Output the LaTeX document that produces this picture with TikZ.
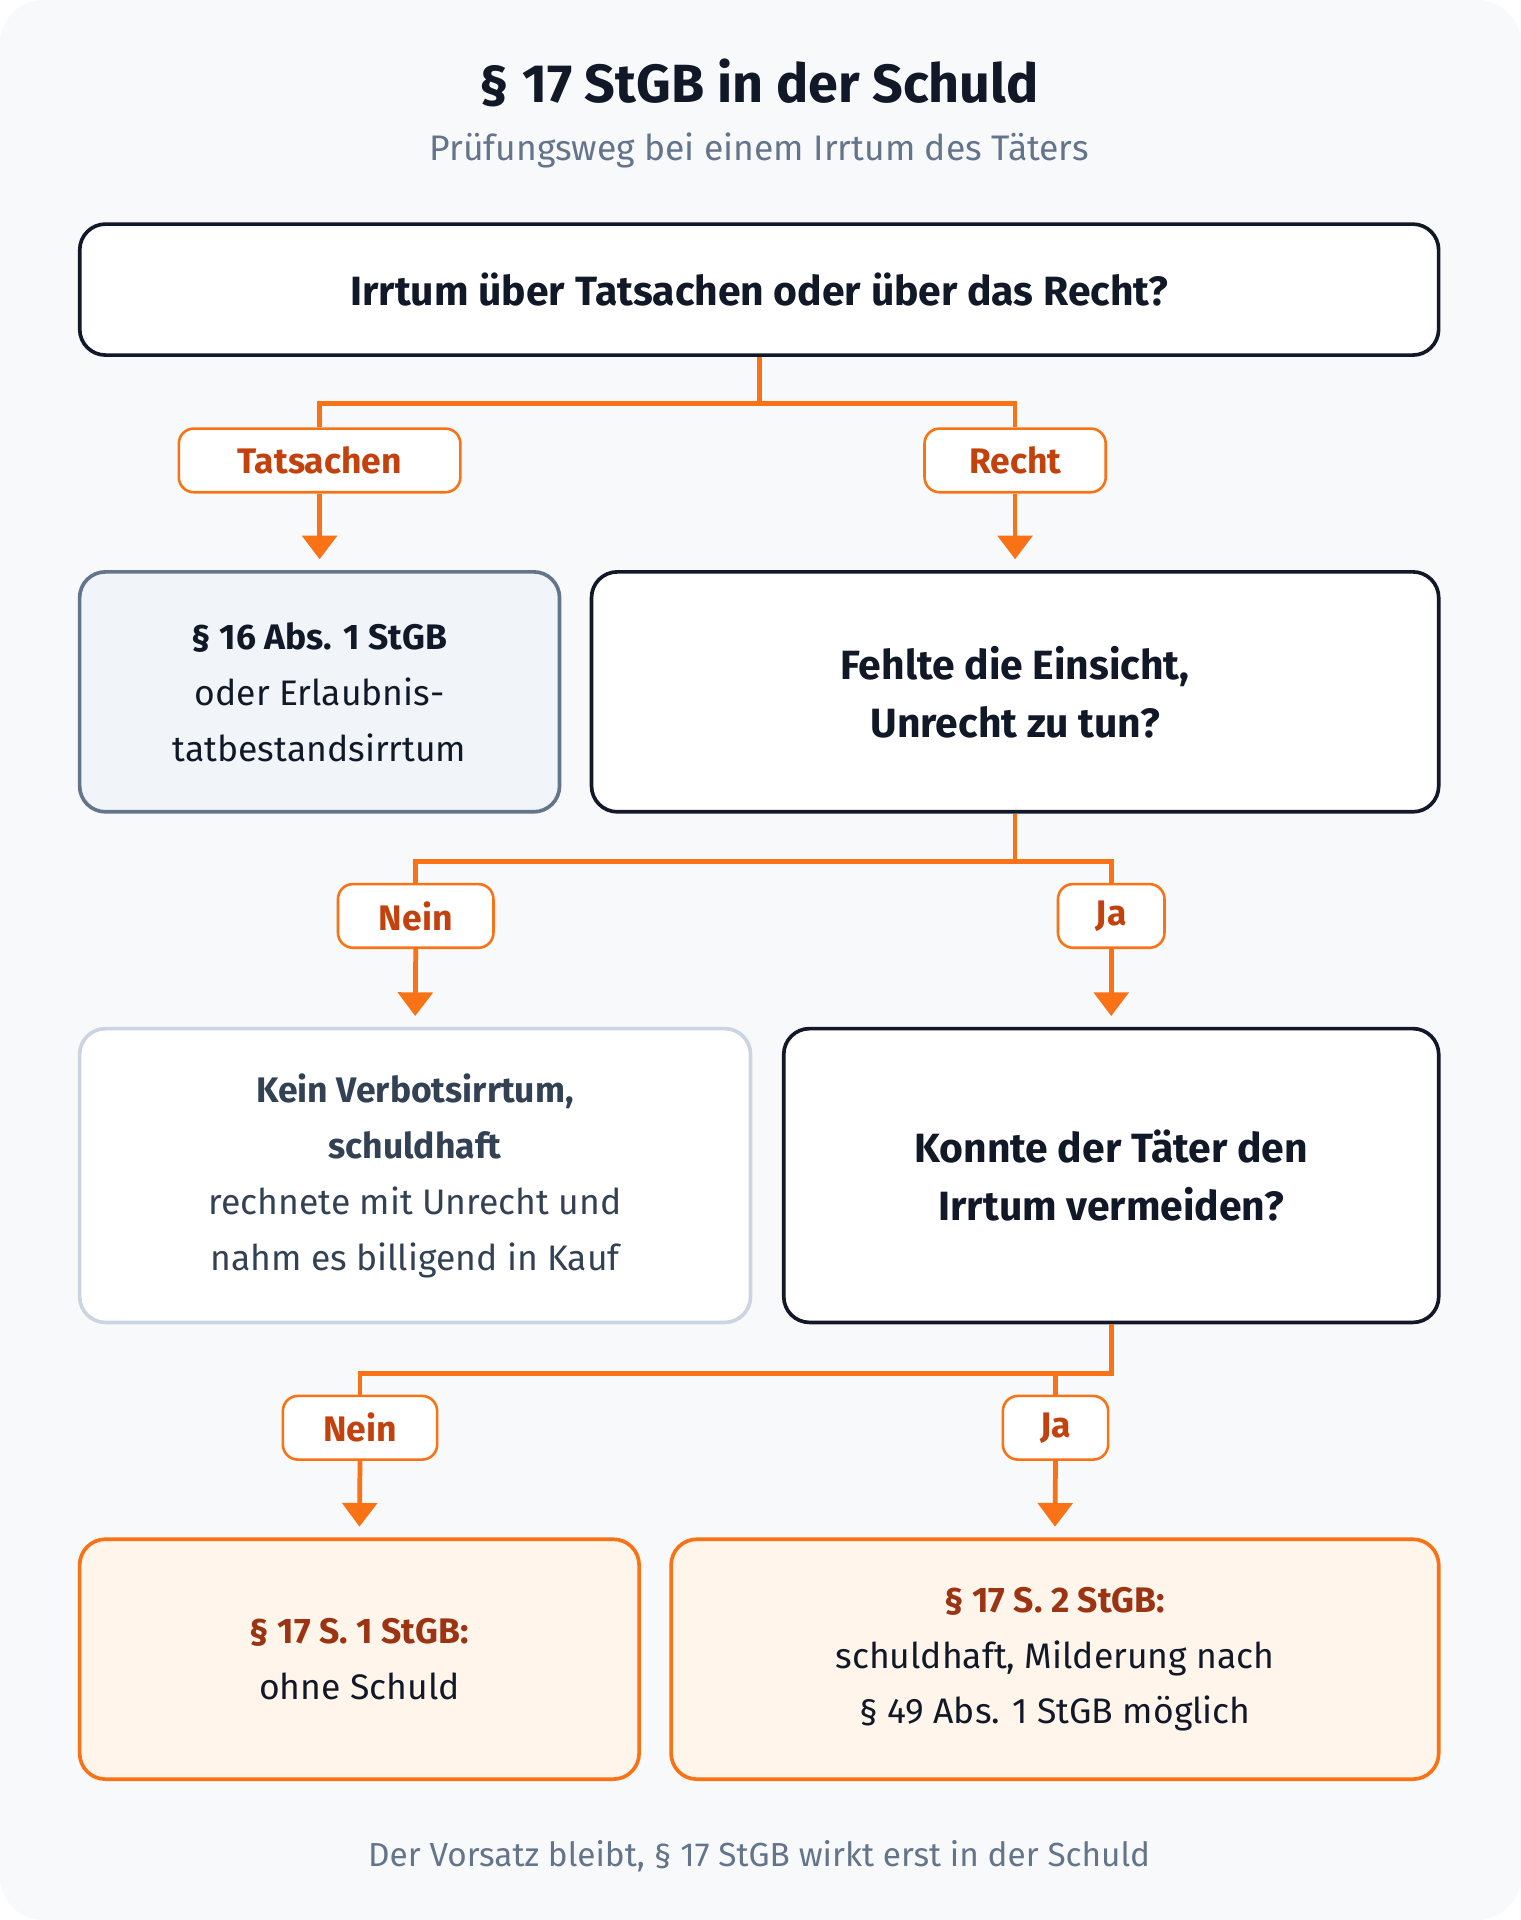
\documentclass[tikz,border=0pt]{standalone}
\usepackage{fontspec}
\setmainfont{Fira Sans}
\usetikzlibrary{arrows.meta,positioning}
\definecolor{bgc}{HTML}{F7F9FB}
\definecolor{ink}{HTML}{111827}
\definecolor{subgray}{HTML}{64748B}
\definecolor{orline}{HTML}{F97316}
\definecolor{ortext}{HTML}{C2410C}
\definecolor{ordark}{HTML}{9A3412}
\definecolor{orfill}{HTML}{FFF5EB}
\definecolor{slatefill}{HTML}{F1F5F9}
\definecolor{slateline}{HTML}{64748B}
\definecolor{lightline}{HTML}{CBD5E1}
\definecolor{slatetext}{HTML}{334155}
\tikzset{
  box/.style={draw=ink, line width=1.7pt, rounded corners=12pt, fill=white, align=center, inner sep=0pt},
  question/.style={box, font=\fontsize{19}{27}\selectfont\bfseries, text=ink},
  info/.style={box, draw=slateline, fill=slatefill, font=\fontsize{16.5}{26}\selectfont, text=ink},
  plain/.style={box, draw=lightline, font=\fontsize{16.5}{26}\selectfont, text=slatetext},
  result/.style={box, draw=orline, fill=orfill, font=\fontsize{16.5}{26}\selectfont, text=ink},
  tag/.style={draw=orline, line width=1.2pt, rounded corners=7pt, fill=white, text=ortext,
    font=\fontsize{16.5}{20}\selectfont\bfseries, minimum height=1.04cm, inner sep=0pt},
  link/.style={draw=orline, line width=2.2pt},
  arr/.style={link, -{Triangle[width=16pt,length=11pt]}, shorten >=5pt},
}
\begin{document}
\begin{tikzpicture}[x=0.02cm,y=-0.02cm]
  % background
  \fill[bgc, rounded corners=20pt] (0,0) rectangle (1242,1568);
  \useasboundingbox (0,0) rectangle (1242,1568);
  % title
  \node[font=\fontsize{25}{30}\selectfont\bfseries, text=ink] (title) at (620,68) {§ 17 StGB in der Schuld};
  \node[font=\fontsize{16.5}{20}\selectfont, text=subgray] (subtitle) at (620,123) {Prüfungsweg bei einem Irrtum des Täters};
  % boxes
  \node[question, minimum width=22.2cm, minimum height=2.14cm] (irrtum) at (620,236.5) {Irrtum über Tatsachen oder über das Recht?};
  \node[info, minimum width=7.84cm, minimum height=3.92cm] (par16) at (261,565) {\textbf{§ 16 Abs. 1 StGB}\\oder Erlaubnis-\\tatbestandsirrtum};
  \node[question, minimum width=13.84cm, minimum height=3.92cm] (einsicht) at (829,565) {Fehlte die Einsicht,\\Unrecht zu tun?};
  \node[plain, minimum width=10.96cm, minimum height=4.8cm] (kein) at (339,960) {\textbf{Kein Verbotsirrtum,}\\\textbf{schuldhaft}\\rechnete mit Unrecht und\\nahm es billigend in Kauf};
  \node[question, minimum width=10.7cm, minimum height=4.8cm] (vermeiden) at (907.5,960) {Konnte der Täter den\\Irrtum vermeiden?};
  \node[result, minimum width=9.14cm, minimum height=3.92cm] (satz1) at (293.5,1355) {\textcolor{ordark}{\textbf{§ 17 S. 1 StGB:}}\\ohne Schuld};
  \node[result, minimum width=12.54cm, minimum height=3.92cm] (satz2) at (861.5,1355) {\textcolor{ordark}{\textbf{§ 17 S. 2 StGB:}}\\schuldhaft, Milderung nach\\§ 49 Abs. 1 StGB möglich};
  % tags
  \node[tag, minimum width=4.6cm] (tatsachen) at (261,376) {Tatsachen};
  \node[tag, minimum width=2.96cm] (recht) at (829,376) {Recht};
  \node[tag, minimum width=2.54cm] (nein1) at (339.5,748) {Nein};
  \node[tag, minimum width=1.74cm] (ja1) at (907.5,748) {Ja};
  \node[tag, minimum width=2.52cm] (nein2) at (294,1166) {Nein};
  \node[tag, minimum width=1.72cm] (ja2) at (862,1166) {Ja};
  % connectors
  \draw[link] (irrtum.south) -- ++(0,38) -| (tatsachen.north);
  \draw[link] (irrtum.south) ++(0,38) -| (recht.north);
  \draw[arr] (tatsachen.south) -- (par16.north);
  \draw[arr] (recht.south) -- (einsicht.north);
  \draw[link] (einsicht.south) -- ++(0,39) -| (nein1.north);
  \draw[link] (einsicht.south) ++(0,39) -| (ja1.north);
  \draw[arr] (nein1.south) -- (kein.north);
  \draw[arr] (ja1.south) -- (vermeiden.north);
  \draw[link] (vermeiden.south) -- ++(0,40) -| (nein2.north);
  \draw[link] (vermeiden.south) ++(0,40) -| (ja2.north);
  \draw[arr] (nein2.south) -- (satz1.north);
  \draw[arr] (ja2.south) -- (satz2.north);
  % footer
  \node[font=\fontsize{15.5}{20}\selectfont, text=subgray] (footer) at (620,1516) {Der Vorsatz bleibt, § 17 StGB wirkt erst in der Schuld};
\end{tikzpicture}
\end{document}
